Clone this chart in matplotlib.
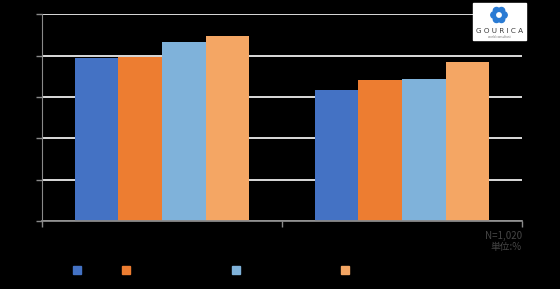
import matplotlib
matplotlib.use('Agg')
import matplotlib.pyplot as plt
from matplotlib.patches import Rectangle, Circle
import numpy as np

#### data (0-100 scale)
groups = ['', '']
series_colors = ['#4472C4', '#ED7D31', '#7FB2DA', '#F4A664']
values = [
    [78.7, 63.4],
    [79.5, 68.2],
    [86.7, 68.8],
    [89.6, 76.9],
]
yticks = [0, 20, 40, 60, 80, 100]
note_lines = ['N=1,020', '単位:%']

#### layout
legend_x = [0.137, 0.225, 0.421, 0.616]   # figure coords of legend swatches
legend_y = 0.066
grid_col = 'white'
axis_col = '#8a8a8a'

fig = plt.figure(figsize=(5.6, 2.89), dpi=100, facecolor='black')
ax = fig.add_axes([0.075, 0.235, 0.857, 0.716], facecolor='black')

x = np.arange(len(groups))
w = 0.182
n = len(values)
for i, (vals, col) in enumerate(zip(values, series_colors)):
    ax.bar(x + (i - (n - 1) / 2) * w, vals, width=w, color=col, zorder=3)

ax.set_xlim(-0.5, len(groups) - 0.5)
ax.set_ylim(0, 100)
ax.set_yticks(yticks)
ax.set_yticklabels([''] * len(yticks))
ax.yaxis.grid(True, color=grid_col, linewidth=1.2, zorder=0)
ax.set_xticks(x)
ax.set_xticklabels(groups)
ax.tick_params(axis='x', which='major', length=0)
ax.set_xticks(np.arange(-0.5, len(groups), 1.0), minor=True)
ax.tick_params(axis='x', which='minor', length=4, color=axis_col, width=1)
ax.tick_params(axis='y', length=4, color=axis_col, width=1)
for s in ['top', 'right']:
    ax.spines[s].set_visible(False)
ax.spines['left'].set_color(axis_col)
ax.spines['bottom'].set_color(axis_col)
ax.spines['bottom'].set_linewidth(1.3)
ax.spines['bottom'].set_zorder(4)

# legend swatches
for col, lx in zip(series_colors, legend_x):
    fig.patches.append(Rectangle((lx - 0.007, legend_y - 0.013), 0.014, 0.027,
                                 transform=fig.transFigure, color=col))

# sample note
for k, line in enumerate(note_lines):
    fig.text(0.932, 0.183 - k * 0.036, line, ha='right', va='center',
             fontsize=7, color='#464646',
             family=['Noto Sans CJK JP', 'DejaVu Sans'])

# logo box (drawn in pixel units so the icon stays round)
fig.patches.append(Rectangle((473, 249), 53, 37, transform=None,
                             color='white', zorder=5))
for a in np.linspace(0, 2 * np.pi, 6, endpoint=False):
    fig.patches.append(Circle((499 + 5 * np.cos(a), 274 + 5 * np.sin(a)), 3.2,
                              transform=None, color='#2A7BD4', zorder=6))
fig.patches.append(Circle((499, 274), 2.2, transform=None, color='white', zorder=7))
fig.text(0.892, 0.893, 'G O U R I C A', ha='center', va='center', fontsize=5.2,
         color='#3a3a3a', zorder=8)
fig.text(0.892, 0.872, 'world consultant', ha='center', va='center', fontsize=2,
         color='#777777', zorder=8)

plt.savefig('out.png', dpi=100, facecolor='black')
